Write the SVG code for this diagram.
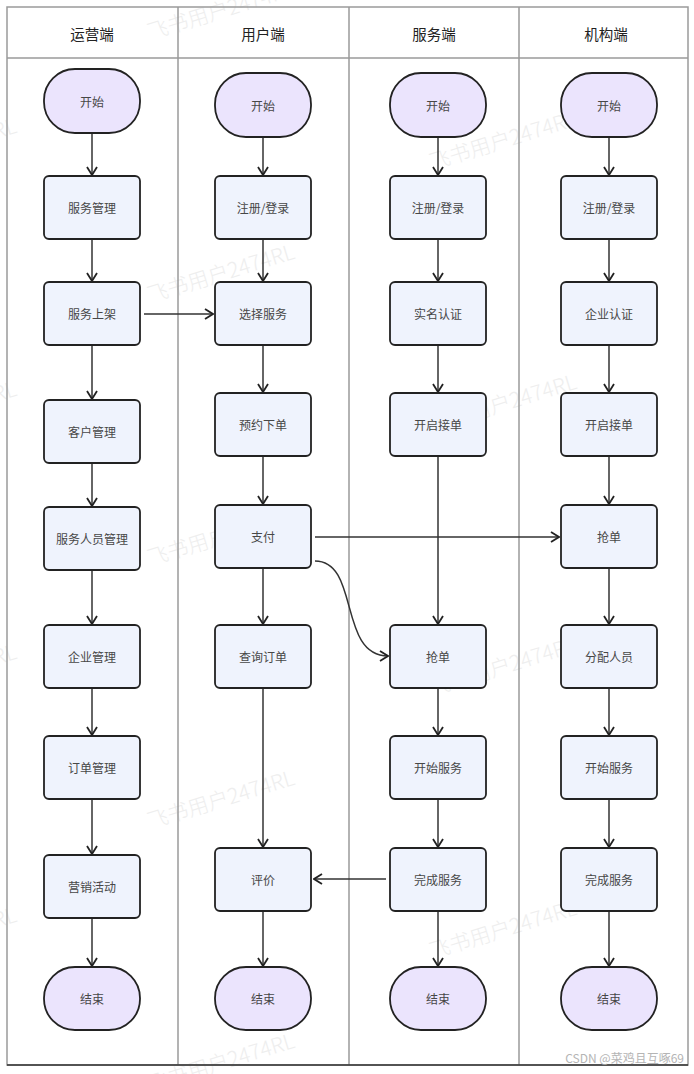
<svg xmlns="http://www.w3.org/2000/svg" width="694" height="1074" viewBox="0 0 694 1074">
<defs>
<style>
.frame{fill:none;stroke:#9a9a9a;stroke-width:1.5}
.hdr{font-family:"Noto Sans CJK SC","Noto Sans",sans-serif;font-size:14.5px;fill:#222;text-anchor:middle;dominant-baseline:central}
.lbl{font-family:"Noto Sans CJK SC","Noto Sans",sans-serif;font-size:12px;fill:#474747;text-anchor:middle;dominant-baseline:central}
.term{fill:#ebe4fd;stroke:#222;stroke-width:1.8}
.proc{fill:#eff3fd;stroke:#222;stroke-width:1.8}
.edge{fill:none;stroke:#333;stroke-width:1.5;marker-end:url(#arr)}
.wm{font-family:"Noto Sans CJK SC","Noto Sans",sans-serif;font-size:21px;font-weight:300;fill:#eeeeee}
.csdn{font-family:"Noto Sans CJK SC","Noto Sans",sans-serif;font-size:12px;fill:#b5b5b5}
</style>
<marker id="arr" viewBox="0 0 10 12" refX="9" refY="6" markerWidth="10" markerHeight="12" markerUnits="userSpaceOnUse" orient="auto">
<path d="M1,1 L9,6 L1,11" fill="none" stroke="#222" stroke-width="1.8"/>
</marker>
</defs>
<rect width="694" height="1074" fill="#fff"/>

<g id="watermarks">
<text class="wm" transform="translate(150,40) rotate(-17)">飞书用户2474RL</text>
<text class="wm" transform="translate(150,303) rotate(-17)">飞书用户2474RL</text>
<text class="wm" transform="translate(150,566) rotate(-17)">飞书用户2474RL</text>
<text class="wm" transform="translate(150,829) rotate(-17)">飞书用户2474RL</text>
<text class="wm" transform="translate(150,1092) rotate(-17)">飞书用户2474RL</text>
<text class="wm" transform="translate(432,170) rotate(-17)">飞书用户2474RL</text>
<text class="wm" transform="translate(432,433) rotate(-17)">飞书用户2474RL</text>
<text class="wm" transform="translate(432,696) rotate(-17)">飞书用户2474RL</text>
<text class="wm" transform="translate(432,959) rotate(-17)">飞书用户2474RL</text>
<text class="wm" transform="translate(-128,177) rotate(-17)">飞书用户2474RL</text>
<text class="wm" transform="translate(-128,440) rotate(-17)">飞书用户2474RL</text>
<text class="wm" transform="translate(-128,703) rotate(-17)">飞书用户2474RL</text>
<text class="wm" transform="translate(-128,966) rotate(-17)">飞书用户2474RL</text>
</g>

<g id="swimlanes">
<rect class="frame" x="7" y="7" width="681" height="1058"/>
<line class="frame" x1="7" y1="58" x2="688" y2="58"/>
<line class="frame" x1="178" y1="7" x2="178" y2="1065"/>
<line class="frame" x1="349" y1="7" x2="349" y2="1065"/>
<line class="frame" x1="519" y1="7" x2="519" y2="1065"/>
<line x1="7" y1="1065" x2="688" y2="1065" stroke="#333" stroke-width="1.5"/>
<text class="hdr" x="92" y="33">运营端</text>
<text class="hdr" x="263" y="33">用户端</text>
<text class="hdr" x="434" y="33">服务端</text>
<text class="hdr" x="606" y="33">机构端</text>
</g>

<g id="connectors">
<line class="edge" x1="92" y1="134" x2="92" y2="175"/>
<line class="edge" x1="92" y1="240" x2="92" y2="281"/>
<line class="edge" x1="92" y1="346" x2="92" y2="399"/>
<line class="edge" x1="92" y1="464" x2="92" y2="506"/>
<line class="edge" x1="92" y1="571" x2="92" y2="624"/>
<line class="edge" x1="92" y1="689" x2="92" y2="735"/>
<line class="edge" x1="92" y1="800" x2="92" y2="854"/>
<line class="edge" x1="92" y1="919" x2="92" y2="966"/>

<line class="edge" x1="263" y1="138" x2="263" y2="175"/>
<line class="edge" x1="263" y1="240" x2="263" y2="281"/>
<line class="edge" x1="263" y1="346" x2="263" y2="392"/>
<line class="edge" x1="263" y1="457" x2="263" y2="504"/>
<line class="edge" x1="263" y1="569" x2="263" y2="624"/>
<line class="edge" x1="263" y1="689" x2="263" y2="847"/>
<line class="edge" x1="263" y1="912" x2="263" y2="966"/>

<line class="edge" x1="438" y1="138" x2="438" y2="175"/>
<line class="edge" x1="438" y1="240" x2="438" y2="281"/>
<line class="edge" x1="438" y1="346" x2="438" y2="392"/>
<line class="edge" x1="438" y1="457" x2="438" y2="624"/>
<line class="edge" x1="438" y1="689" x2="438" y2="735"/>
<line class="edge" x1="438" y1="800" x2="438" y2="847"/>
<line class="edge" x1="438" y1="912" x2="438" y2="966"/>

<line class="edge" x1="609" y1="138" x2="609" y2="175"/>
<line class="edge" x1="609" y1="240" x2="609" y2="281"/>
<line class="edge" x1="609" y1="346" x2="609" y2="392"/>
<line class="edge" x1="609" y1="457" x2="609" y2="504"/>
<line class="edge" x1="609" y1="569" x2="609" y2="624"/>
<line class="edge" x1="609" y1="689" x2="609" y2="735"/>
<line class="edge" x1="609" y1="800" x2="609" y2="847"/>
<line class="edge" x1="609" y1="912" x2="609" y2="966"/>

<line class="edge" x1="144" y1="314" x2="213" y2="314"/>
<line class="edge" x1="315" y1="537" x2="559" y2="537"/>
<line class="edge" x1="386" y1="879" x2="314" y2="879"/>
<path class="edge" d="M315,561 C360,561 338,656 388,656"/>
</g>

<g id="lane1">
<g id="n-op-start"><rect class="term" x="44" y="69" width="96" height="64" rx="31"/><text class="lbl" x="92" y="101">开始</text></g>
<g id="n-op-1"><rect class="proc" x="44" y="176" width="96" height="63" rx="5"/><text class="lbl" x="92" y="207.5">服务管理</text></g>
<g id="n-op-2"><rect class="proc" x="44" y="282" width="96" height="63" rx="5"/><text class="lbl" x="92" y="313.5">服务上架</text></g>
<g id="n-op-3"><rect class="proc" x="44" y="400" width="96" height="63" rx="5"/><text class="lbl" x="92" y="431.5">客户管理</text></g>
<g id="n-op-4"><rect class="proc" x="44" y="507" width="96" height="63" rx="5"/><text class="lbl" x="92" y="538.5">服务人员管理</text></g>
<g id="n-op-5"><rect class="proc" x="44" y="625" width="96" height="63" rx="5"/><text class="lbl" x="92" y="656.5">企业管理</text></g>
<g id="n-op-6"><rect class="proc" x="44" y="736" width="96" height="63" rx="5"/><text class="lbl" x="92" y="767.5">订单管理</text></g>
<g id="n-op-7"><rect class="proc" x="44" y="855" width="96" height="63" rx="5"/><text class="lbl" x="92" y="886.5">营销活动</text></g>
<g id="n-op-end"><rect class="term" x="44" y="967" width="96" height="63" rx="31"/><text class="lbl" x="92" y="998.5">结束</text></g>
</g>

<g id="lane2">
<g id="n-u-start"><rect class="term" x="215" y="73" width="96" height="64" rx="31"/><text class="lbl" x="263" y="105">开始</text></g>
<g id="n-u-1"><rect class="proc" x="215" y="176" width="96" height="63" rx="5"/><text class="lbl" x="263" y="207.5">注册/登录</text></g>
<g id="n-u-2"><rect class="proc" x="215" y="282" width="96" height="63" rx="5"/><text class="lbl" x="263" y="313.5">选择服务</text></g>
<g id="n-u-3"><rect class="proc" x="215" y="393" width="96" height="63" rx="5"/><text class="lbl" x="263" y="424.5">预约下单</text></g>
<g id="n-u-4"><rect class="proc" x="215" y="505" width="96" height="63" rx="5"/><text class="lbl" x="263" y="536.5">支付</text></g>
<g id="n-u-5"><rect class="proc" x="215" y="625" width="96" height="63" rx="5"/><text class="lbl" x="263" y="656.5">查询订单</text></g>
<g id="n-u-6"><rect class="proc" x="215" y="848" width="96" height="63" rx="5"/><text class="lbl" x="263" y="879.5">评价</text></g>
<g id="n-u-end"><rect class="term" x="215" y="967" width="96" height="63" rx="31"/><text class="lbl" x="263" y="998.5">结束</text></g>
</g>

<g id="lane3">
<g id="n-s-start"><rect class="term" x="390" y="73" width="96" height="64" rx="31"/><text class="lbl" x="438" y="105">开始</text></g>
<g id="n-s-1"><rect class="proc" x="390" y="176" width="96" height="63" rx="5"/><text class="lbl" x="438" y="207.5">注册/登录</text></g>
<g id="n-s-2"><rect class="proc" x="390" y="282" width="96" height="63" rx="5"/><text class="lbl" x="438" y="313.5">实名认证</text></g>
<g id="n-s-3"><rect class="proc" x="390" y="393" width="96" height="63" rx="5"/><text class="lbl" x="438" y="424.5">开启接单</text></g>
<g id="n-s-4"><rect class="proc" x="390" y="625" width="96" height="63" rx="5"/><text class="lbl" x="438" y="656.5">抢单</text></g>
<g id="n-s-5"><rect class="proc" x="390" y="736" width="96" height="63" rx="5"/><text class="lbl" x="438" y="767.5">开始服务</text></g>
<g id="n-s-6"><rect class="proc" x="390" y="848" width="96" height="63" rx="5"/><text class="lbl" x="438" y="879.5">完成服务</text></g>
<g id="n-s-end"><rect class="term" x="390" y="967" width="96" height="63" rx="31"/><text class="lbl" x="438" y="998.5">结束</text></g>
</g>

<g id="lane4">
<g id="n-o-start"><rect class="term" x="561" y="73" width="96" height="64" rx="31"/><text class="lbl" x="609" y="105">开始</text></g>
<g id="n-o-1"><rect class="proc" x="561" y="176" width="96" height="63" rx="5"/><text class="lbl" x="609" y="207.5">注册/登录</text></g>
<g id="n-o-2"><rect class="proc" x="561" y="282" width="96" height="63" rx="5"/><text class="lbl" x="609" y="313.5">企业认证</text></g>
<g id="n-o-3"><rect class="proc" x="561" y="393" width="96" height="63" rx="5"/><text class="lbl" x="609" y="424.5">开启接单</text></g>
<g id="n-o-4"><rect class="proc" x="561" y="505" width="96" height="63" rx="5"/><text class="lbl" x="609" y="536.5">抢单</text></g>
<g id="n-o-5"><rect class="proc" x="561" y="625" width="96" height="63" rx="5"/><text class="lbl" x="609" y="656.5">分配人员</text></g>
<g id="n-o-6"><rect class="proc" x="561" y="736" width="96" height="63" rx="5"/><text class="lbl" x="609" y="767.5">开始服务</text></g>
<g id="n-o-7"><rect class="proc" x="561" y="848" width="96" height="63" rx="5"/><text class="lbl" x="609" y="879.5">完成服务</text></g>
<g id="n-o-end"><rect class="term" x="561" y="967" width="96" height="63" rx="31"/><text class="lbl" x="609" y="998.5">结束</text></g>
</g>

<text class="csdn" x="684" y="1063" text-anchor="end">CSDN @菜鸡且互啄69</text>
</svg>
